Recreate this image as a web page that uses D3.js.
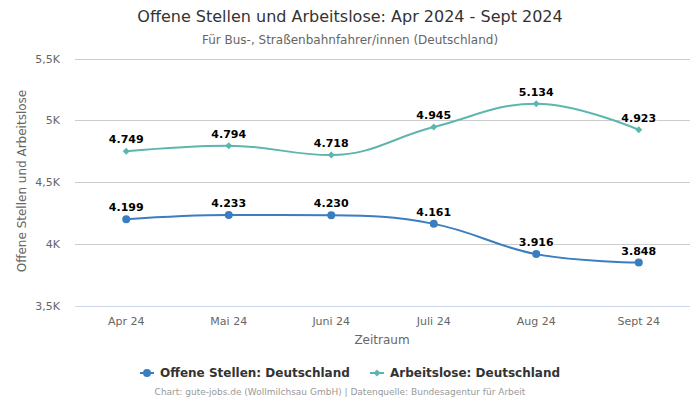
<!DOCTYPE html>
<html><head><meta charset="utf-8">
<script src="https://cdn.jsdelivr.net/npm/d3@7"></script>
<style>body{margin:0;background:#fff;font-family:"DejaVu Sans",sans-serif}</style>
</head><body><svg id="c" width="700" height="400"></svg>
<script>
const categories = ["Apr 24","Mai 24","Juni 24","Juli 24","Aug 24","Sept 24"];
const offeneStellen = [4199,4233,4230,4161,3916,3848];
const arbeitslose = [4749,4794,4718,4945,5134,4923];
const yTicks = [3500,4000,4500,5000,5500];
const yTickLabels = ["3,5K","4K","4,5K","5K","5,5K"];
const seriesNames = ["Offene Stellen: Deutschland","Arbeitslose: Deutschland"];
const colors = ["#3a7ebf","#5cb6ae"];

const svg = d3.select("#c");
const x = d3.scaleBand().domain(categories).range([75,690]);
const y = d3.scaleLinear().domain([3500,5500]).range([305.5,58.5]);
const cx = c => x(c) + x.bandwidth()/2;

svg.append("text").attr("x",350).attr("y",22).attr("text-anchor","middle")
  .attr("font-size",16).attr("fill","#333").text("Offene Stellen und Arbeitslose: Apr 2024 - Sept 2024");
svg.append("text").attr("x",350).attr("y",44).attr("text-anchor","middle")
  .attr("font-size",12).attr("fill","#666").text("Für Bus-, Straßenbahnfahrer/innen (Deutschland)");

// grid
const g = svg.append("g");
yTicks.forEach((t,i)=>{
  g.append("line").attr("x1",75).attr("x2",690).attr("y1",Math.round(y(t))+0.5).attr("y2",Math.round(y(t))+0.5)
    .attr("stroke", i===0 ? "#ccd6eb" : "#cccccc").attr("stroke-width",1);
  g.append("text").attr("x",60).attr("y",y(t)+4).attr("text-anchor","end")
    .attr("font-size",11).attr("fill","#666").text(yTickLabels[i]);
});
categories.forEach(c=>{
  g.append("text").attr("x",cx(c)).attr("y",325).attr("text-anchor","middle")
    .attr("font-size",11).attr("fill","#666").text(c);
});
svg.append("text").attr("x",382).attr("y",344).attr("text-anchor","middle")
  .attr("font-size",12).attr("fill","#666").text("Zeitraum");
svg.append("text").attr("transform","translate(26,181) rotate(-90)").attr("text-anchor","middle")
  .attr("font-size",12).attr("fill","#666").text("Offene Stellen und Arbeitslose");

// Highcharts-like spline
function splinePath(pts){
  const sm=1.5, den=sm+1;
  const ctl = pts.map((p,i)=>{
    if(i===0||i===pts.length-1) return null;
    const l=pts[i-1], n=pts[i+1];
    let lcx=(sm*p[0]+l[0])/den, lcy=(sm*p[1]+l[1])/den;
    let rcx=(sm*p[0]+n[0])/den, rcy=(sm*p[1]+n[1])/den;
    let corr=((rcy-lcy)*(rcx-p[0]))/(rcx-lcx)+p[1]-rcy;
    lcy+=corr; rcy+=corr;
    if(lcy>l[1]&&lcy>p[1]){lcy=Math.max(l[1],p[1]);rcy=2*p[1]-lcy;}
    else if(lcy<l[1]&&lcy<p[1]){lcy=Math.min(l[1],p[1]);rcy=2*p[1]-lcy;}
    if(rcy>n[1]&&rcy>p[1]){rcy=Math.max(n[1],p[1]);lcy=2*p[1]-rcy;}
    else if(rcy<n[1]&&rcy<p[1]){rcy=Math.min(n[1],p[1]);lcy=2*p[1]-rcy;}
    return {lcx,lcy,rcx,rcy};
  });
  let d="M"+pts[0][0]+","+pts[0][1];
  for(let i=1;i<pts.length;i++){
    const pc=ctl[i-1], cc=ctl[i], p=pts[i], q=pts[i-1];
    d+="C"+(pc?pc.rcx:q[0])+","+(pc?pc.rcy:q[1])+" "+(cc?cc.lcx:p[0])+","+(cc?cc.lcy:p[1])+" "+p[0]+","+p[1];
  }
  return d;
}
const fmt = v => d3.format(",")(v).replace(/,/g,".");
[offeneStellen, arbeitslose].forEach((data,si)=>{
  const pts = data.map((v,i)=>[cx(categories[i]), y(v)]);
  svg.append("path").attr("d",splinePath(pts)).attr("fill","none")
    .attr("stroke",colors[si]).attr("stroke-width",2);
  pts.forEach((p,i)=>{
    if(si===0) svg.append("circle").attr("cx",p[0]).attr("cy",p[1]).attr("r",4).attr("fill",colors[si]);
    else svg.append("path").attr("d",`M${p[0]},${p[1]-3.5}L${p[0]+3.5},${p[1]}L${p[0]},${p[1]+3.5}L${p[0]-3.5},${p[1]}Z`).attr("fill",colors[si]);
    svg.append("text").attr("x",p[0]).attr("y",p[1]-8).attr("text-anchor","middle")
      .attr("font-size",11).attr("font-weight","bold").attr("fill","#000")
      .attr("stroke","#fff").attr("stroke-width",2).attr("paint-order","stroke").attr("stroke-linejoin","round")
      .text(fmt(data[i]));
  });
});

// legend
const lx=[140,370];
seriesNames.forEach((n,i)=>{
  const lg=svg.append("g");
  lg.append("line").attr("x1",lx[i]).attr("x2",lx[i]+14).attr("y1",373).attr("y2",373)
    .attr("stroke",colors[i]).attr("stroke-width",2);
  if(i===0) lg.append("circle").attr("cx",lx[i]+7).attr("cy",373).attr("r",4).attr("fill",colors[i]);
  else lg.append("path").attr("d",`M${lx[i]+7},369.5L${lx[i]+10.5},373L${lx[i]+7},376.5L${lx[i]+3.5},373Z`).attr("fill",colors[i]);
  lg.append("text").attr("x",lx[i]+20).attr("y",377).attr("font-size",12).attr("font-weight","bold")
    .attr("fill","#333").text(n);
});
svg.append("text").attr("x",340).attr("y",395).attr("text-anchor","middle")
  .attr("font-size",9).attr("fill","#999").text("Chart: gute-jobs.de (Wollmilchsau GmbH) | Datenquelle: Bundesagentur für Arbeit");
</script></body></html>
